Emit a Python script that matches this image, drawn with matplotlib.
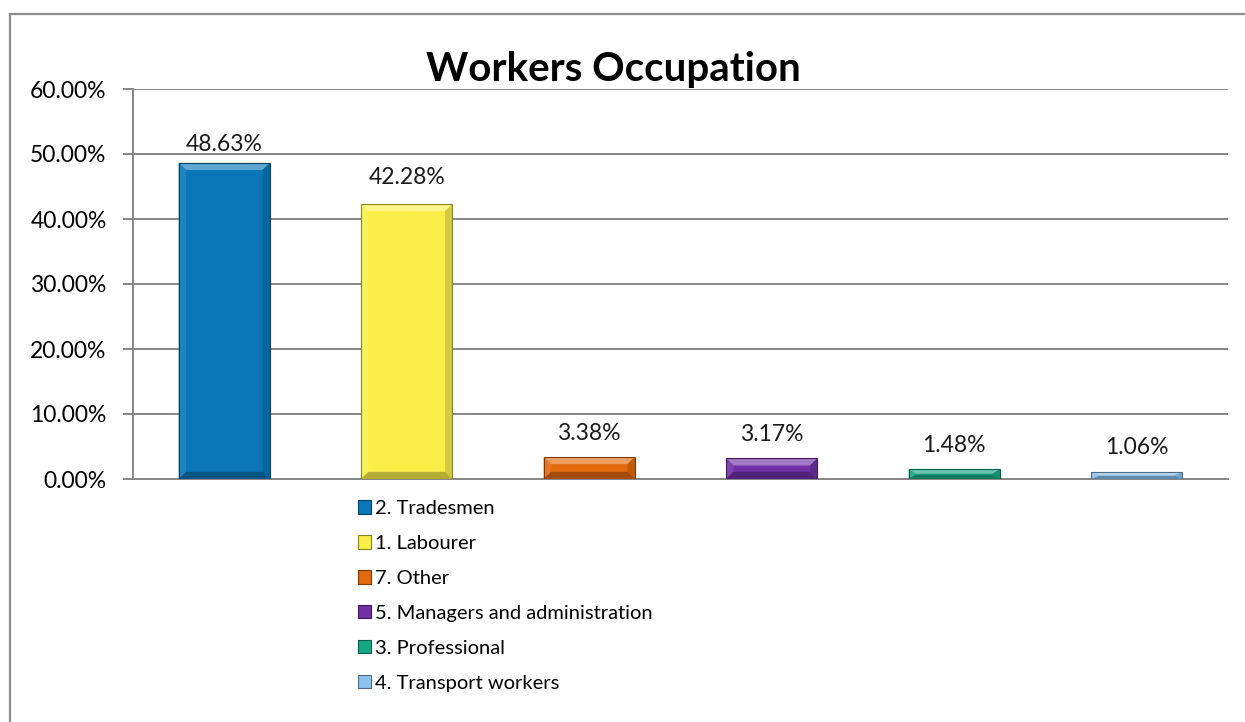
import matplotlib.pyplot as plt
import matplotlib.patches as mpatches
from matplotlib.colors import to_rgb
import numpy as np

plt.rcParams['font.family'] = ['Lato', 'DejaVu Sans']

categories = ['2. Tradesmen', '1. Labourer', '7. Other', '5. Managers and administration',
              '3. Professional', '4. Transport workers']
values = [0.4863, 0.4228, 0.0338, 0.0317, 0.0148, 0.0106]
colors = ['#0976B8', '#F9EE48', '#E2690C', '#7130A6', '#16A883', '#8BC2EE']
yticks = [0.0, 0.1, 0.2, 0.3, 0.4, 0.5, 0.6]
# label offset above each bar, in pixels (the first label sits a bit lower in the original)
label_offsets = [18, 27, 24, 24, 24, 25]


def shade(c, f):
    # f > 0 lightens, f < 0 darkens
    r = np.array(to_rgb(c))
    if f > 0:
        return tuple(r + (1 - r) * f)
    return tuple(r * (1 + f))


def bevel_bar(ax, xc, w, h, color, bx=0.04, by=0.011):
    x0, x1 = xc - w / 2, xc + w / 2
    b_y = min(by, h / 2.2)
    b_x = min(bx, w / 2)
    ax.add_patch(mpatches.Rectangle((x0, 0), w, h, facecolor=color, edgecolor='none', zorder=3))
    top = [(x0, h), (x1, h), (x1 - b_x, h - b_y), (x0 + b_x, h - b_y)]
    bot = [(x0, 0), (x1, 0), (x1 - b_x, b_y), (x0 + b_x, b_y)]
    left = [(x0, 0), (x0, h), (x0 + b_x, h - b_y), (x0 + b_x, b_y)]
    right = [(x1, 0), (x1, h), (x1 - b_x, h - b_y), (x1 - b_x, b_y)]
    for pts, f in [(top, 0.35), (left, 0.1), (right, -0.15), (bot, -0.28)]:
        ax.add_patch(mpatches.Polygon(pts, closed=True, facecolor=shade(color, f),
                                      edgecolor='none', zorder=3))
    ax.add_patch(mpatches.Rectangle((x0, 0), w, h, facecolor='none',
                                    edgecolor=shade(color, -0.45), linewidth=0.8, zorder=4))


fig = plt.figure(figsize=(12.45, 7.22), dpi=100)
fig.patches.append(mpatches.Rectangle((10 / 1245, -0.1), 1.2, 1 - 14 / 722 + 0.1,
                                      transform=fig.transFigure, fill=False,
                                      edgecolor='#8c8c8c', linewidth=1.6))
ax = fig.add_axes([133 / 1245, 1 - 479 / 722, (1228 - 133) / 1245, (479 - 89) / 722])

x = np.arange(len(values))
bw = 0.5
for xi, v, c, off in zip(x, values, colors, label_offsets):
    bevel_bar(ax, xi, bw, v, c)
    ax.annotate(f'{v * 100:.2f}%', (xi, v), xytext=(0, off * 0.72), textcoords='offset points',
                ha='center', va='center', fontsize=16.5, color='#1a1a1a')

ax.set_xlim(-0.5, len(values) - 0.5)
ax.set_ylim(0, 0.6)
ax.set_yticks(yticks)
ax.set_yticklabels([f'{t * 100:.2f}%' for t in yticks], fontsize=16.5)
ax.set_xticks([])
ax.grid(axis='y', color='#868686', linewidth=1.4, zorder=0)
ax.set_axisbelow(True)
for s in ['top', 'right']:
    ax.spines[s].set_visible(False)
for s in ['left', 'bottom']:
    ax.spines[s].set_color('#868686')
    ax.spines[s].set_linewidth(1.4)
ax.tick_params(axis='y', length=7, width=1.4, color='#868686', pad=12)

fig.text(613 / 1245, 1 - 70 / 722, 'Workers Occupation', ha='center', va='center',
         fontsize=29, fontweight='bold')

handles = [mpatches.Patch(facecolor=c, edgecolor=shade(c, -0.45), linewidth=0.8) for c in colors]
fig.legend(handles, categories, loc='upper left', bbox_to_anchor=(348 / 1245, 1 - 490 / 722),
           frameon=False, fontsize=14.5, handlelength=0.65, handleheight=0.65,
           handletextpad=0.2, labelspacing=0.89, borderpad=0)

fig.savefig('out.png', dpi=100)
